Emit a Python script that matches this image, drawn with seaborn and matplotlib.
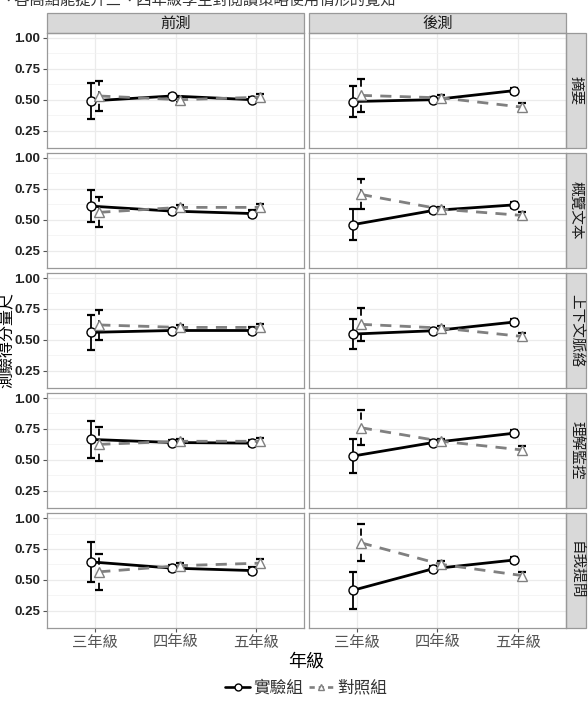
import pandas as pd
import numpy as np
import matplotlib
matplotlib.use("Agg")
import matplotlib.pyplot as plt
from matplotlib.patches import Rectangle
from matplotlib.lines import Line2D
import seaborn as sns

# === Data ===
phases = ["前測", "後測"]
strategies = ["摘要", "概覽文本", "上下文脈絡", "理解監控", "自我提問"]
grades = ["三年級", "四年級", "五年級"]
groups = ["實驗組", "對照組"]

# rows = strategies, columns = grades
pre_exp_mean = [[0.49, 0.53, 0.50], [0.61, 0.57, 0.55], [0.56, 0.575, 0.575],
                [0.665, 0.64, 0.635], [0.645, 0.595, 0.575]]
pre_exp_err = [[0.145, 0.02, 0.02], [0.128, 0.02, 0.025], [0.144, 0.02, 0.025],
               [0.15, 0.02, 0.025], [0.165, 0.025, 0.025]]
pre_ctl_mean = [[0.53, 0.50, 0.52], [0.56, 0.60, 0.60], [0.62, 0.60, 0.60],
                [0.625, 0.65, 0.65], [0.565, 0.615, 0.635]]
pre_ctl_err = [[0.12, 0.02, 0.03], [0.12, 0.02, 0.03], [0.124, 0.02, 0.03],
               [0.137, 0.02, 0.03], [0.145, 0.025, 0.03]]

post_exp_mean = [[0.485, 0.50, 0.573], [0.46, 0.575, 0.62], [0.546, 0.573, 0.643],
                 [0.53, 0.64, 0.715], [0.415, 0.59, 0.66]]
post_exp_err = [[0.128, 0.02, 0.025], [0.124, 0.02, 0.025], [0.121, 0.02, 0.025],
                [0.137, 0.02, 0.025], [0.152, 0.025, 0.025]]
post_ctl_mean = [[0.535, 0.515, 0.44], [0.705, 0.585, 0.535], [0.625, 0.595, 0.527],
                 [0.76, 0.65, 0.58], [0.80, 0.625, 0.535]]
post_ctl_err = [[0.133, 0.02, 0.03], [0.121, 0.02, 0.025], [0.135, 0.02, 0.03],
                [0.144, 0.02, 0.03], [0.148, 0.025, 0.03]]

caption = "、各高點能提升三、四年級學生對閱讀策略使用情形的覺知"

# === Build long table ===
dodge = {"實驗組": -0.05, "對照組": 0.05}
tables = {("前測", "實驗組"): (pre_exp_mean, pre_exp_err),
          ("前測", "對照組"): (pre_ctl_mean, pre_ctl_err),
          ("後測", "實驗組"): (post_exp_mean, post_exp_err),
          ("後測", "對照組"): (post_ctl_mean, post_ctl_err)}
rows = []
for (phase, grp), (means, errs) in tables.items():
    for si, strat in enumerate(strategies):
        for gi, grade in enumerate(grades):
            rows.append({"phase": phase, "strategy": strat, "group": grp,
                         "grade": grade, "xpos": gi + dodge[grp],
                         "score": means[si][gi], "err": errs[si][gi]})
df = pd.DataFrame(rows)

# === Style ===
sns.set_style("white")
plt.rcParams["font.family"] = ["Noto Sans CJK TC", "DejaVu Sans"]

pal = {"實驗組": "black", "對照組": "#808080"}


def draw_errorbars(data, **kws):
    ax = plt.gca()
    for grp in groups:
        d = data[data["group"] == grp]
        eb = ax.errorbar(d["xpos"], d["score"], yerr=d["err"], fmt="none",
                         ecolor="black", elinewidth=1.3, capsize=3,
                         capthick=1.6, zorder=2)
        if grp == "對照組":
            eb[2][0].set_linestyle((0, (4, 3)))


g = sns.FacetGrid(df, row="strategy", col="phase", row_order=strategies,
                  col_order=phases, sharex=True, sharey=True, height=1.2, aspect=2.2)
g.map_dataframe(draw_errorbars)
g.map_dataframe(sns.lineplot, x="xpos", y="score", hue="group", style="group",
                hue_order=groups, style_order=groups, palette=pal,
                markers={"實驗組": "o", "對照組": "^"},
                dashes={"實驗組": "", "對照組": (4, 3)},
                linewidth=2.0, markersize=6.5, markerfacecolor="white",
                markeredgewidth=1.0, zorder=3)

fig = g.figure
fig.set_size_inches(5.88, 7.06)
fig.subplots_adjust(left=47 / 588, right=566 / 588, top=1 - 33 / 706,
                    bottom=1 - 628 / 706, wspace=0.016, hspace=0.045)
g.set_titles("")
g.set_axis_labels("", "")

for (ri, ci), ax in np.ndenumerate(g.axes):
    # seaborn gives markers a white edge; use the line colour instead
    for ln in ax.lines:
        if ln.get_marker() in ("o", "^"):
            ln.set_markeredgecolor(ln.get_color())
            ln.set_markerfacecolor("white")
    ax.set_xlim(-0.6, 2.6)
    ax.set_ylim(0.11, 1.04)
    ax.set_xticks(range(len(grades)))
    ax.set_yticks([0.25, 0.5, 0.75, 1.0])
    ax.set_yticks([0.375, 0.625, 0.875], minor=True)
    ax.grid(True, which="major", color="#EBEBEB", linewidth=0.9)
    ax.grid(True, which="minor", axis="y", color="#F2F2F2", linewidth=0.5)
    ax.set_axisbelow(True)
    for sp in ax.spines.values():
        sp.set_visible(True)
        sp.set_color("#999999")
        sp.set_linewidth(0.9)
    ax.tick_params(axis="both", which="major", length=3, color="#555555",
                   direction="out")
    ax.tick_params(axis="y", which="minor", length=0)
    if ci == 0:
        ax.set_yticklabels(["0.25", "0.50", "0.75", "1.00"], fontsize=9.5,
                           fontweight="bold", color="#222222",
                           fontfamily="Liberation Sans")
        ax.tick_params(axis="y", left=True, pad=2)
    if ri == len(strategies) - 1:
        ax.set_xticklabels(grades, fontsize=11, color="#555555")
        ax.tick_params(axis="x", bottom=True, pad=1)
    if ax.get_legend() is not None:
        ax.get_legend().remove()
    # strips
    if ri == 0:
        h = 20 / 115
        ax.add_patch(Rectangle((0, 1), 1, h, transform=ax.transAxes, clip_on=False,
                               facecolor="#D9D9D9", edgecolor="#999999", linewidth=0.9))
        ax.text(0.5, 1 + h / 2, phases[ci], transform=ax.transAxes, ha="center",
                va="center", fontsize=11, color="#1A1A1A")
    if ci == len(phases) - 1:
        w = 20 / 257
        ax.add_patch(Rectangle((1, 0), w, 1, transform=ax.transAxes, clip_on=False,
                               facecolor="#D9D9D9", edgecolor="#999999", linewidth=0.9))
        ax.text(1 + w / 2, 0.5, strategies[ri], transform=ax.transAxes, ha="center",
                va="center", fontsize=10.5, color="#1A1A1A", rotation=-90)

# === Labels ===
fig.text(7 / 588, 1 - 340 / 706, "測驗得分量尺", rotation=90, ha="center",
         va="center", fontsize=11.5, color="black")
fig.text(306 / 588, 1 - 662 / 706, "年級", ha="center", va="center",
         fontsize=13, color="black")
fig.text(0.0, 1.0, caption, ha="left", va="center", fontsize=11, color="#333333")

handles = [Line2D([], [], color="black", linewidth=1.9, marker="o", markersize=5,
                  markerfacecolor="white", markeredgecolor="black",
                  markeredgewidth=1.0),
           Line2D([], [], color="#808080", linewidth=1.9, linestyle=(0, (2, 1.5)),
                  marker="^", markersize=5, markerfacecolor="white",
                  markeredgecolor="#808080", markeredgewidth=1.0)]
fig.legend(handles, groups, loc="center", bbox_to_anchor=(306 / 588, 1 - 688 / 706),
           ncol=2, frameon=False, fontsize=12, handlelength=1.5, handletextpad=0.2,
           columnspacing=0.3, labelcolor="#333333")

fig.savefig("out.png", dpi=100)
plt.close(fig)
